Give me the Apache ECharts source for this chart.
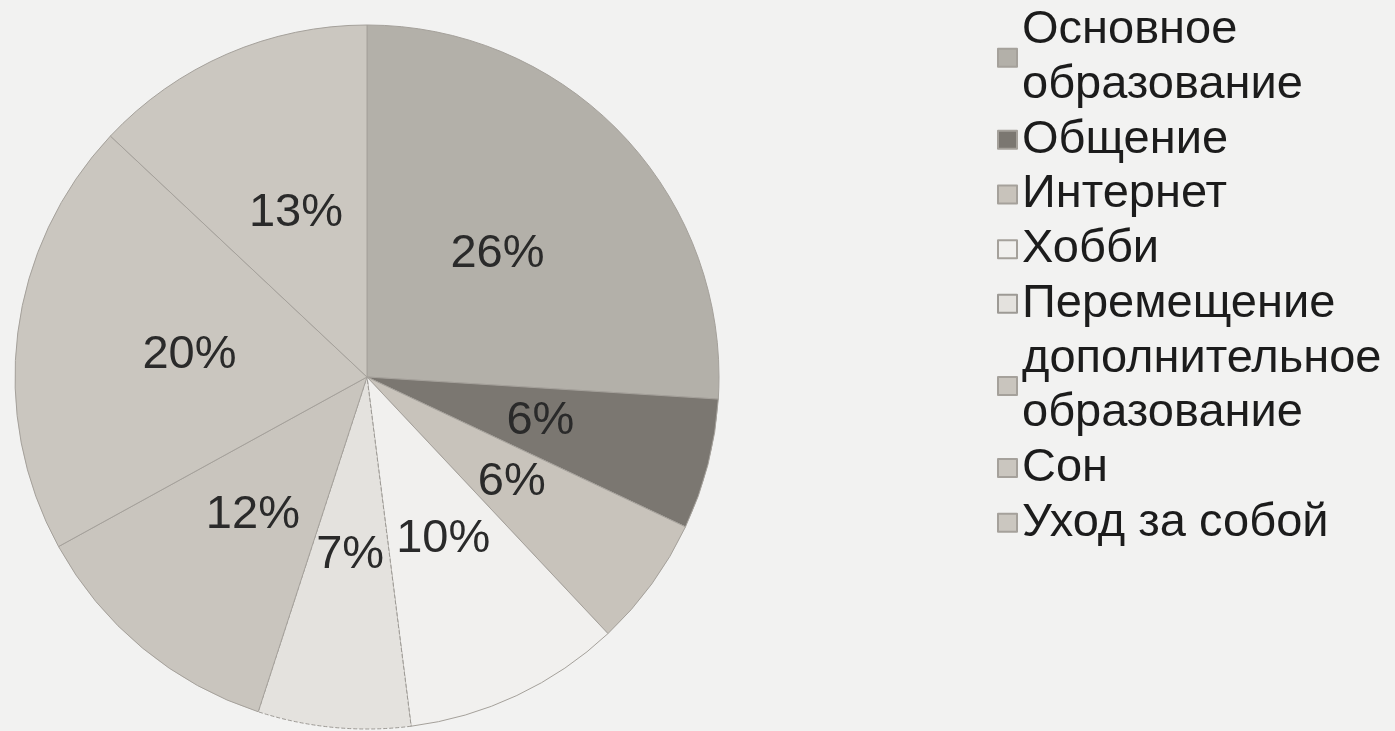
<!DOCTYPE html>
<html>
<head>
<meta charset="utf-8">
<script src="https://cdn.jsdelivr.net/npm/echarts@6/dist/echarts.min.js"></script>
<style>
html,body{margin:0;padding:0;background:#f2f2f1;}
#chart{width:1395px;height:731px;}
</style>
</head>
<body>
<div id="chart"></div>
<script>
const categories = ["Основное образование","Общение","Интернет","Хобби","Перемещение","дополнительное образование","Сон","Уход за собой"];
const legendLabels = ["Основное\nобразование","Общение","Интернет","Хобби","Перемещение","дополнительное\nобразование","Сон","Уход за собой"];
const values = [26, 6, 6, 10, 7, 12, 20, 13];
const colors = ["#b3b0a9","#7b7771","#c8c3bb","#f1f0ee","#e4e2de","#c9c5be","#cac6bf","#cbc7c0"];

const chart = echarts.init(document.getElementById('chart'));
const data = categories.map((name, i) => ({
  name: name,
  value: values[i],
  itemStyle: {
    color: colors[i],
    borderColor: i === 4 ? '#9d9a95' : '#a5a19b',
    borderWidth: 1,
    borderType: i === 4 ? 'dashed' : 'solid'
  }
}));

chart.setOption({
  backgroundColor: '#f2f2f1',
  animation: false,
  legend: {
    orient: 'vertical',
    left: 997,
    top: 3,
    padding: 0,
    itemGap: 0,
    itemWidth: 19,
    itemHeight: 18,
    icon: 'rect',
    data: categories,
    formatter: function (name) { return legendLabels[categories.indexOf(name)]; },
    textStyle: {
      fontFamily: 'Liberation Sans, Arial, sans-serif',
      fontSize: 47,
      lineHeight: 54.7,
      color: '#1c1c1c',
      padding: [0, 0, 0, 0]
    }
  },
  series: [{
    type: 'pie',
    center: [367, 377],
    radius: 352,
    startAngle: 90,
    clockwise: true,
    data: data,
    label: {
      show: true,
      position: 'inside',
      formatter: '{d}%',
      fontFamily: 'Liberation Sans, Arial, sans-serif',
      fontSize: 47,
      color: '#2a2a2a'
    },
    labelLine: { show: false },
    emphasis: { disabled: true }
  }]
});
</script>
</body>
</html>
